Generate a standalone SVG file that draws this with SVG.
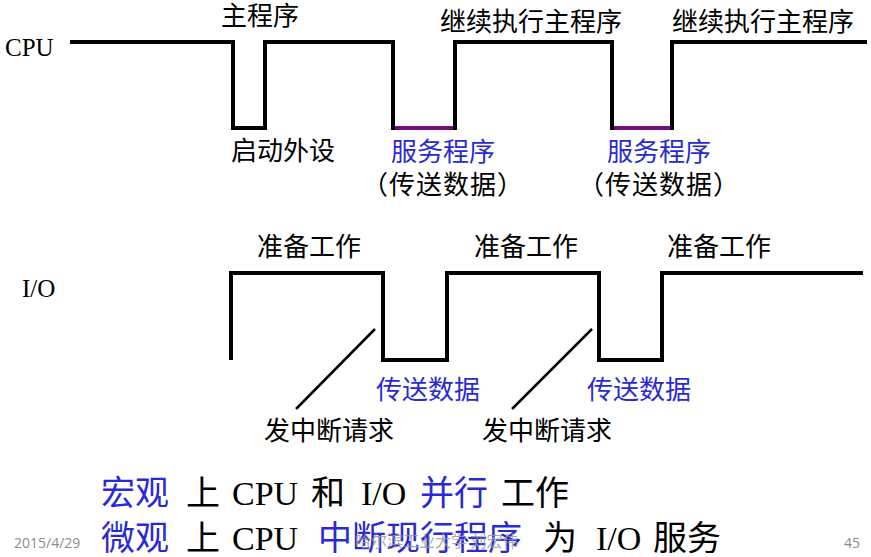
<svg xmlns="http://www.w3.org/2000/svg" width="871" height="557" viewBox="0 0 871 557">
<style>
text{font-family:"Liberation Serif","Noto Sans CJK SC",serif;fill:#000}
.cn{font-size:26px}
.lbl{font-size:25px}
.blue{fill:#2a2ad4}
.big{font-size:34px}
.par{letter-spacing:1px}
.wave{fill:none;stroke:#000;stroke-width:4;stroke-linejoin:miter}
.svc{stroke:#7a0a7a;stroke-width:4}
.diag{stroke:#000;stroke-width:2.5}
.foot{font-family:"Open Sans","Liberation Sans",sans-serif;font-size:14px;fill:#8c8c8c}
.wm{font-family:"Noto Sans CJK SC",sans-serif;font-size:16px;fill:#9a9a9a;fill-opacity:0.85}
</style>
<rect width="871" height="557" fill="#fff"/>
<g id="connectors">
<path id="cpu-wave" class="wave" d="M70,42 H233 V128 H265 V42 H393 V128 H455 V42 H612 V128 H672 V42 H867"/>
<line class="svc" x1="395" y1="128" x2="453" y2="128"/>
<line class="svc" x1="614" y1="128" x2="670" y2="128"/>
<path id="io-wave" class="wave" d="M231,360 V273 H383 V360 H447 V273 H599 V360 H662 V273 H863"/>
<line class="diag" x1="375" y1="329" x2="296" y2="409"/>
<line class="diag" x1="592" y1="329" x2="512" y2="409"/>
</g>
<g id="cpu-label"><text class="lbl" x="5" y="56">CPU</text></g>
<g id="io-label"><text class="lbl" x="22" y="297">I/O</text></g>
<g id="main1"><text class="cn" x="221" y="25">主程序</text></g>
<g id="cont1"><text class="cn" x="440" y="31">继续执行主程序</text></g>
<g id="cont2"><text class="cn" x="672" y="31">继续执行主程序</text></g>
<g id="start"><text class="cn" x="231" y="160">启动外设</text></g>
<g id="svc1">
<text class="cn blue" x="443" y="161" text-anchor="middle">服务程序</text>
<text class="cn par" x="443" y="194" text-anchor="middle">（传送数据）</text>
</g>
<g id="svc2">
<text class="cn blue" x="659" y="161" text-anchor="middle">服务程序</text>
<text class="cn par" x="659" y="194" text-anchor="middle">（传送数据）</text>
</g>
<g id="prep1"><text class="cn" x="257" y="256">准备工作</text></g>
<g id="prep2"><text class="cn" x="474" y="256">准备工作</text></g>
<g id="prep3"><text class="cn" x="667" y="256">准备工作</text></g>
<g id="xfer1"><text class="cn blue" x="376" y="399">传送数据</text></g>
<g id="xfer2"><text class="cn blue" x="587" y="399">传送数据</text></g>
<g id="irq1"><text class="cn" x="264" y="440">发中断请求</text></g>
<g id="irq2"><text class="cn" x="482" y="440">发中断请求</text></g>
<g id="summary">
<text class="big" y="505"><tspan class="blue" x="101">宏观</tspan><tspan x="186">上</tspan><tspan x="232">CPU</tspan><tspan x="311">和</tspan><tspan x="361">I/O</tspan><tspan class="blue" x="420">并行</tspan><tspan x="501">工作</tspan></text>
<text class="big" y="550"><tspan class="blue" x="101">微观</tspan><tspan x="186">上</tspan><tspan x="232">CPU</tspan><tspan class="blue" x="318">中断现行程序</tspan><tspan x="543">为</tspan><tspan x="596">I/O</tspan><tspan x="653">服务</tspan></text>
</g>
<g id="footer">
<text class="foot" x="14" y="548">2015/4/29</text>
<text class="wm" x="355" y="547">哈尔滨工业大学 刘宏伟</text>
<text class="foot" x="844" y="548">45</text>
</g>
</svg>
